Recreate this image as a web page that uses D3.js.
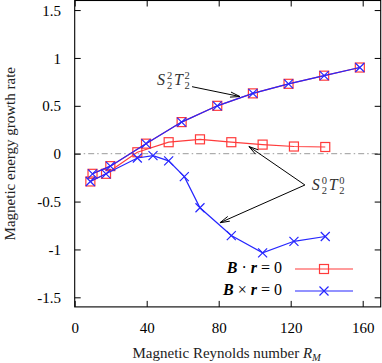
<!DOCTYPE html>
<html><head><meta charset="utf-8">
<script src="https://cdn.jsdelivr.net/npm/d3@7"></script>
<style>
html,body{margin:0;padding:0;background:#fff;}
svg{display:block;font-family:"Liberation Serif","Times New Roman",serif;}
</style></head>
<body>
<svg id="chart" width="382" height="363"></svg>
<script>
// ---- data ----
const upperX = [9.9, 19.8, 39.6, 59.4, 79.2, 99, 118.8, 138.6, 158.4];
const upperY = [-0.21, -0.13, 0.105, 0.33, 0.50, 0.63, 0.73, 0.815, 0.90];
const lowerRedX = [8.7, 17.4, 34.8, 52.2, 69.6, 87, 104.4, 121.8, 139.2];
const lowerRedY = [-0.29, -0.21, 0.015, 0.12, 0.15, 0.12, 0.095, 0.075, 0.07];
const lowerBlueX = [8.7, 17.4, 34.8, 43.5, 52.2, 60.9, 69.6, 87, 104.4, 121.8, 139.2];
const lowerBlueY = [-0.29, -0.21, -0.045, -0.02, -0.075, -0.24, -0.565, -0.855, -1.035, -0.915, -0.865];
const xTicks = [0, 40, 80, 120, 160];
const yTicks = [-1.5, -1, -0.5, 0, 0.5, 1, 1.5];
const yTickLabels = ["-1.5", "-1", "-0.5", "0", "0.5", "1", "1.5"];
const legendLabels = [["B", " \u00B7 ", "r", " = 0"], ["B", " \u00D7 ", "r", " = 0"]];

const red = "#ff3b3b", blue = "#2626ff";
const svg = d3.select("#chart");
const L = 74.7, R = 380.7, T = 0.5, B = 306.9;
const x = d3.scaleLinear().domain([0, 170]).range([L, R]);
const y = d3.scaleLinear().domain([-1.6, 1.6]).range([B, T]);

// zero line
svg.append("line").attr("x1", L).attr("x2", R).attr("y1", y(0)).attr("y2", y(0))
  .attr("stroke", "#9a9a9a").attr("stroke-width", 1).attr("stroke-dasharray", "6,3,1.5,3");

// axes (inward ticks, mirrored)
const fs = 15;
const ax = svg.append("g").attr("transform", `translate(0,${B})`)
  .call(d3.axisBottom(x).tickValues(xTicks).tickSizeInner(-6).tickSizeOuter(0).tickPadding(0).tickFormat(d3.format("d")));
ax.select(".domain").remove();
ax.selectAll("text").attr("y", 26).attr("dy", 0).attr("font-size", fs).attr("font-family", "Liberation Serif");
ax.selectAll("line").attr("stroke", "#000");
const axT = svg.append("g").attr("transform", `translate(0,${T})`)
  .call(d3.axisTop(x).tickValues(xTicks).tickSizeInner(-6).tickSizeOuter(0).tickFormat(""));
axT.select(".domain").remove();
const ay = svg.append("g").attr("transform", `translate(${L},0)`)
  .call(d3.axisLeft(y).tickValues(yTicks).tickSizeInner(-6).tickSizeOuter(0).tickPadding(13.7)
    .tickFormat((d, i) => yTickLabels[i]));
ay.select(".domain").remove();
ay.selectAll("text").attr("dy", "0.34em").attr("font-size", fs).attr("font-family", "Liberation Serif");
const ayR = svg.append("g").attr("transform", `translate(${R},0)`)
  .call(d3.axisRight(y).tickValues(yTicks).tickSizeInner(-6).tickSizeOuter(0).tickFormat(""));
ayR.select(".domain").remove();
svg.selectAll(".tick line").attr("stroke", "#000");

// frame
svg.append("rect").attr("x", L).attr("y", T).attr("width", R - L).attr("height", B - T)
  .attr("fill", "none").attr("stroke", "#000").attr("stroke-width", 1.1);

// series helpers
const line = d3.line().x(d => x(d[0])).y(d => y(d[1]));
function zip(a, b) { return a.map((v, i) => [v, b[i]]); }
function drawLine(pts, color) {
  svg.append("path").datum(pts).attr("d", line).attr("fill", "none")
    .attr("stroke", color).attr("stroke-width", 1.2);
}
function squares(pts) {
  svg.append("g").selectAll("rect").data(pts).join("rect")
    .attr("x", d => x(d[0]) - 4.5).attr("y", d => y(d[1]) - 4.5)
    .attr("width", 9).attr("height", 9).attr("fill", "none")
    .attr("stroke", red).attr("stroke-width", 1.2);
}
function crosses(pts) {
  const s = 4.5;
  svg.append("g").selectAll("path").data(pts).join("path")
    .attr("d", d => { const cx = x(d[0]), cy = y(d[1]);
      return `M${cx - s},${cy - s}L${cx + s},${cy + s}M${cx - s},${cy + s}L${cx + s},${cy - s}`; })
    .attr("stroke", blue).attr("stroke-width", 1.2).attr("fill", "none");
}
const up = zip(upperX, upperY), lr = zip(lowerRedX, lowerRedY), lb = zip(lowerBlueX, lowerBlueY);
drawLine(lr, red); drawLine(up, red);
squares(lr); squares(up);
drawLine(lb, blue); drawLine(up, blue);
crosses(lb); crosses(up);

// annotations
function arrow(x0, y0, x1, y1) {
  const X0 = x(x0), Y0 = y(y0), X1 = x(x1), Y1 = y(y1);
  const a = Math.atan2(Y1 - Y0, X1 - X0), hl = 10, ha = 0.26;
  svg.append("path")
    .attr("d", `M${X0},${Y0}L${X1},${Y1}M${X1 - hl * Math.cos(a - ha)},${Y1 - hl * Math.sin(a - ha)}L${X1},${Y1}L${X1 - hl * Math.cos(a + ha)},${Y1 - hl * Math.sin(a + ha)}`)
    .attr("stroke", "#000").attr("stroke-width", 1).attr("fill", "none");
}
function modeLabel(px, base, sup1, sub1, sup2, sub2) {
  const g = svg.append("g").attr("fill", "#333").attr("font-family", "Liberation Serif");
  g.append("text").attr("x", px).attr("y", base).attr("font-size", 16).attr("font-style", "italic").text("S");
  g.append("text").attr("x", px + 10).attr("y", base - 6.5).attr("font-size", 10.5).text(sup1);
  g.append("text").attr("x", px + 10).attr("y", base + 3.5).attr("font-size", 10.5).text(sub1);
  g.append("text").attr("x", px + 17).attr("y", base).attr("font-size", 16).attr("font-style", "italic").text("T");
  g.append("text").attr("x", px + 27.5).attr("y", base - 6.5).attr("font-size", 10.5).text(sup2);
  g.append("text").attr("x", px + 27.5).attr("y", base + 3.5).attr("font-size", 10.5).text(sub2);
}
modeLabel(x(45.7), y(0.717), "2", "2", "2", "2");
arrow(65.2, 0.70, 91.8, 0.597);
modeLabel(x(131.7), y(-0.38), "0", "2", "0", "2");
arrow(127.9, -0.327, 96.8, 0.075);
arrow(127.9, -0.327, 80.7, -0.721);

// legend
const legY = [269, 291], colors = [red, blue];
legendLabels.forEach((parts, i) => {
  const t = svg.append("text").attr("x", 282).attr("y", legY[i] + 4).attr("text-anchor", "end")
    .attr("font-size", 16).attr("font-family", "Liberation Serif");
  parts.forEach((p, j) => {
    const ts = t.append("tspan").text(p);
    if (j === 0 || j === 2) ts.attr("font-weight", "bold").attr("font-style", "italic");
  });
  svg.append("line").attr("x1", 295).attr("x2", 353).attr("y1", legY[i]).attr("y2", legY[i])
    .attr("stroke", colors[i]).attr("stroke-width", 1.2);
});
svg.append("rect").attr("x", 324 - 4.5).attr("y", legY[0] - 4.5).attr("width", 9).attr("height", 9)
  .attr("fill", "none").attr("stroke", red).attr("stroke-width", 1.2);
svg.append("path").attr("d", `M${319.5},${legY[1] - 4.5}L${328.5},${legY[1] + 4.5}M${319.5},${legY[1] + 4.5}L${328.5},${legY[1] - 4.5}`)
  .attr("stroke", blue).attr("stroke-width", 1.2);

// axis titles
const xl = svg.append("text").attr("x", (L + R) / 2 - 1).attr("y", 358).attr("text-anchor", "middle")
  .attr("font-size", 15).attr("fill", "#222");
xl.append("tspan").text("Magnetic Reynolds number ");
xl.append("tspan").attr("font-style", "italic").text("R");
xl.append("tspan").attr("font-style", "italic").attr("font-size", 10.5).attr("dy", 3).text("M");
svg.append("text").attr("transform", `translate(15,${y(0)}) rotate(-90)`).attr("text-anchor", "middle")
  .attr("font-size", 15).attr("fill", "#222").text("Magnetic energy growth rate");
</script>
</body></html>
